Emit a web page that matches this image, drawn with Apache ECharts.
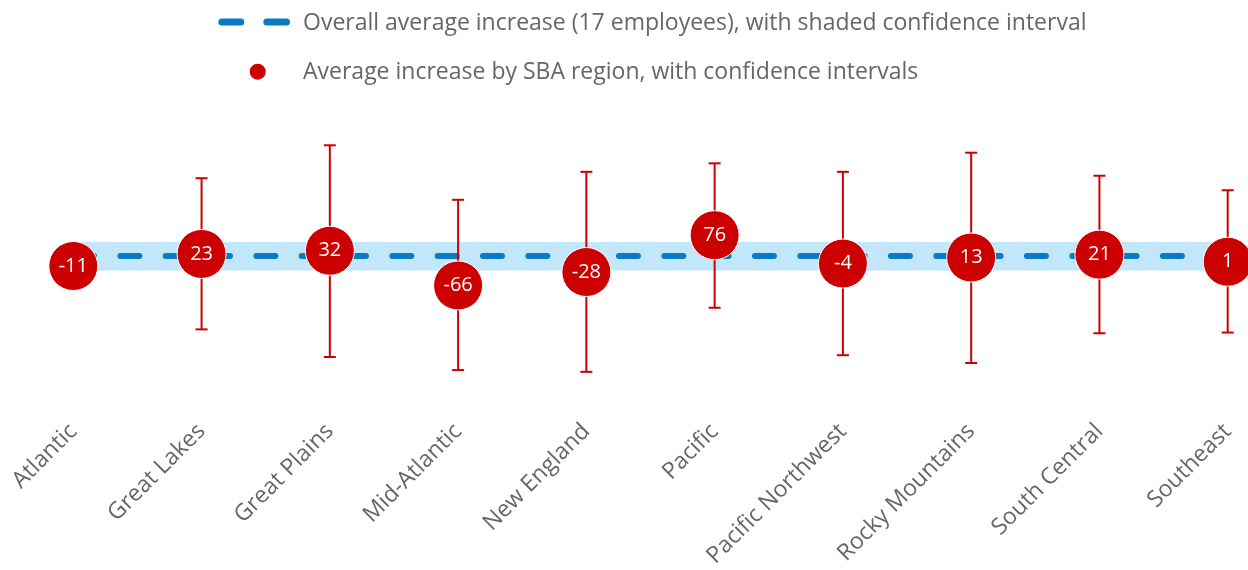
<!DOCTYPE html>
<html>
<head>
<meta charset="utf-8">
<style>
  html, body { margin: 0; padding: 0; background: #ffffff; }
  #chart { width: 1248px; height: 570px; }
</style>
<script src="https://cdn.jsdelivr.net/npm/echarts@6/dist/echarts.min.js"></script>
</head>
<body>
<div id="chart"></div>
<script>
// SBA regions and the average employee increase in each, with confidence bounds
const CATEGORIES = ['Atlantic', 'Great Lakes', 'Great Plains', 'Mid-Atlantic', 'New England',
  'Pacific', 'Pacific Northwest', 'Rocky Mountains', 'South Central', 'Southeast'];
const REGION_AVG = [-11, 23, 32, -66, -28, 76, -4, 13, 21, 1];
const CI_LOW  = [null, -190, -268, -305, -310, -129, -263, -285, -201, -199];
const CI_HIGH = [null,  237,  330,  176,  255,  279,  255,  309,  244,  203];

// Overall average across all regions and its confidence band
const OVERALL_AVG = 17;
const OVERALL_CI = [-24, 57];

// Value range of the (hidden) vertical axis
const Y_MIN = -400;
const Y_MAX = 400;

const RED = '#cc0000';
const BLUE = '#0a7bc2';
const BAND = '#c2e7fb';
const GREY = '#666666';
const FONT = '"Open Sans"';

const chart = echarts.init(document.getElementById('chart'), null, { renderer: 'canvas' });

const errorData = [];
CATEGORIES.forEach((c, i) => {
  if (CI_LOW[i] !== null && CI_HIGH[i] !== null) errorData.push([i, CI_LOW[i], CI_HIGH[i]]);
});

const option = {
  backgroundColor: '#ffffff',
  animation: false,
  grid: { left: 73.3, right: 20.3, top: 120.5, height: 286, containLabel: false },
  xAxis: {
    type: 'category',
    data: CATEGORIES,
    boundaryGap: false,
    axisLine: { show: false },
    axisTick: { show: false },
    splitLine: { show: false },
    axisLabel: {
      interval: 0,
      rotate: 45,
      margin: 24,
      align: 'right',
      verticalAlign: 'middle',
      color: GREY,
      fontSize: 23,
      fontFamily: FONT
    }
  },
  yAxis: {
    type: 'value',
    min: Y_MIN,
    max: Y_MAX,
    show: false,
    splitLine: { show: false }
  },
  graphic: [
    // legend: overall average
    { type: 'line', shape: { x1: 221.8, y1: 22, x2: 240.8, y2: 22 },
      style: { stroke: BLUE, lineWidth: 7, lineCap: 'round' } },
    { type: 'line', shape: { x1: 266.8, y1: 22, x2: 286.5, y2: 22 },
      style: { stroke: BLUE, lineWidth: 7, lineCap: 'round' } },
    { type: 'text', x: 303, y: 23,
      style: { text: 'Overall average increase (' + OVERALL_AVG + ' employees), with shaded confidence interval',
        fill: GREY, font: '23px ' + FONT, verticalAlign: 'middle' } },
    // legend: regional averages
    { type: 'circle', shape: { cx: 257.7, cy: 71.7, r: 8 }, style: { fill: RED } },
    { type: 'text', x: 303, y: 72,
      style: { text: 'Average increase by SBA region, with confidence intervals',
        fill: GREY, font: '23px ' + FONT, verticalAlign: 'middle' } }
  ],
  series: [
    {
      name: 'Overall average',
      type: 'line',
      data: CATEGORIES.map(() => OVERALL_AVG),
      symbol: 'none',
      silent: true,
      z: 1,
      lineStyle: { color: BLUE, width: 6, type: [19, 26.33], dashOffset: 43.6, cap: 'round' },
      markArea: {
        silent: true,
        itemStyle: { color: BAND, opacity: 1 },
        data: [[
          { xAxis: CATEGORIES[0], yAxis: OVERALL_CI[0] },
          { xAxis: CATEGORIES[CATEGORIES.length - 1], yAxis: OVERALL_CI[1] }
        ]]
      }
    },
    {
      name: 'Confidence intervals',
      type: 'custom',
      z: 3,
      silent: true,
      data: errorData,
      encode: { x: 0, y: [1, 2] },
      renderItem: function (params, api) {
        const idx = api.value(0);
        const lo = api.coord([idx, api.value(1)]);
        const hi = api.coord([idx, api.value(2)]);
        const cap = 6;
        const st = { stroke: RED, lineWidth: 2, fill: null };
        return {
          type: 'group',
          children: [
            { type: 'line', shape: { x1: hi[0], y1: hi[1], x2: lo[0], y2: lo[1] }, style: st },
            { type: 'line', shape: { x1: hi[0] - cap, y1: hi[1], x2: hi[0] + cap, y2: hi[1] }, style: st },
            { type: 'line', shape: { x1: lo[0] - cap, y1: lo[1], x2: lo[0] + cap, y2: lo[1] }, style: st }
          ]
        };
      }
    },
    {
      name: 'Regional average',
      type: 'scatter',
      z: 5,
      data: REGION_AVG,
      symbol: 'circle',
      symbolSize: 49,
      itemStyle: { color: RED, opacity: 1, borderColor: '#ffffff', borderWidth: 1 },
      label: {
        show: true,
        position: 'inside',
        color: '#ffffff',
        fontSize: 20,
        fontFamily: FONT,
        formatter: p => String(p.value)
      }
    }
  ]
};

chart.setOption(option);
</script>
</body>
</html>
